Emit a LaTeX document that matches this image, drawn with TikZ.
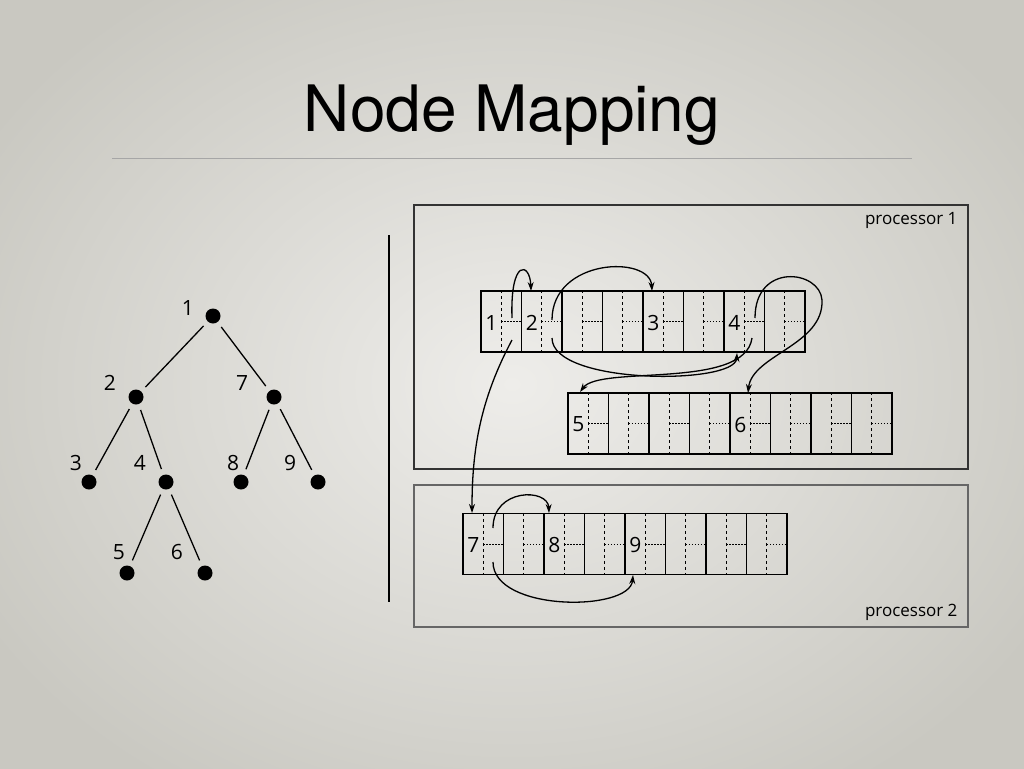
\documentclass[tikz,border=0pt]{standalone}
\usepackage{fontspec}
\setmainfont{Open Sans}
\newfontfamily\titlefont{TeX Gyre Heros}
\usetikzlibrary{arrows.meta,calc}
\definecolor{bgin}{HTML}{EEEDEA}
\definecolor{bgout}{HTML}{C9C8C1}
\begin{document}
\begin{tikzpicture}[x=1pt,y=-1pt,
  dot/.style={circle,fill=black,inner sep=0pt,minimum size=15pt},
  lbl/.style={font=\fontsize{21}{21}\selectfont},
  cell/.style={draw,line width=1.3pt,minimum width=40.5pt,minimum height=61pt,inner sep=0pt},
  lnk/.style={line width=1.3pt,-{Stealth[length=9pt,width=6pt]}},
  edge/.style={line width=1.3pt}]
\useasboundingbox (0,0) rectangle (1024,768);
\clip (0,0) rectangle (1024,768);
\shade[inner color=bgin,outer color=bgout] (-100,-100) rectangle (1124,868);
\node[font=\titlefont\fontsize{64}{64}\selectfont] (title) at (512,115) {Node Mapping};
\draw[gray!70,line width=0.8pt] (112,158) -- (912,158);
% tree
\node[dot] (n1) at (213,316) {}; \node[lbl] at (188,308) {1};
\node[dot] (n2) at (136,397) {}; \node[lbl] at (110,383) {2};
\node[dot] (n7) at (274,397) {}; \node[lbl] at (242,383) {7};
\node[dot] (n3) at (89,482) {};  \node[lbl] at (76,463) {3};
\node[dot] (n4) at (166,482) {}; \node[lbl] at (140,463) {4};
\node[dot] (n8) at (241,482) {}; \node[lbl] at (233,463) {8};
\node[dot] (n9) at (318,482) {}; \node[lbl] at (290,463) {9};
\node[dot] (n5) at (127,573) {}; \node[lbl] at (119,552) {5};
\node[dot] (n6) at (205,573) {}; \node[lbl] at (177,552) {6};
\foreach \a/\b in {n1/n2,n1/n7,n2/n3,n2/n4,n7/n8,n7/n9,n4/n5,n4/n6}
  \draw[edge,shorten <=6pt,shorten >=6pt] (\a) -- (\b);
\draw[line width=1.5pt] (389,235) -- (389,602);
% processors
\draw[line width=1.5pt,black!80] (414,205) rectangle (968,469);
\node[font=\fontsize{17}{17}\selectfont,anchor=north east] (p1) at (961,209) {processor 1};
\draw[line width=1.5pt,black!60] (414,485) rectangle (968,627);
\node[font=\fontsize{17}{17}\selectfont,anchor=south east] (p2) at (961,624) {processor 2};
% arrays
\newcommand\arr[4]{%
  \foreach \i in {0,...,7}{
    \node[cell] (#1c\i) at ({#2+20.25+40.5*\i},#3) {};
    \draw[line width=1pt,dash pattern=on 3pt off 3pt] (#1c\i.north) -- (#1c\i.south);
    \draw[line width=1pt,dash pattern=on 1.5pt off 1.5pt] (#1c\i.center) -- (#1c\i.east);
  }
  \foreach \i/\t in {#4}{
    \node[lbl,anchor=center] at ($(#1c\i.center)+(-10,1)$) {\t};
  }}
\arr{a}{481}{321.5}{0/1,1/2,4/3,6/4}
\arr{b}{568}{423.5}{0/5,4/6}
\arr{c}{463}{544}{0/7,2/8,4/9}
% links
\draw[lnk] (512,318) .. controls (510,258) and (530,262) .. (531,291);
\draw[lnk] (552,320) .. controls (552,258) and (650,255) .. (652,291);
\draw[lnk] (755,318) .. controls (755,262) and (820,270) .. (822,300)
  .. controls (824,345) and (752,355) .. (748,393);
\draw[lnk] (552,338) .. controls (552,385) and (735,385) .. (737,353);
\draw[lnk] (752,338) .. controls (745,390) and (600,365) .. (580,392);
\draw[lnk] (512,340) .. controls (480,400) and (472,450) .. (472,513);
\draw[lnk] (493,528) .. controls (493,488) and (548,488) .. (549,513);
\draw[lnk] (493,562) .. controls (493,612) and (630,612) .. (633,575);
\end{tikzpicture}
\end{document}
